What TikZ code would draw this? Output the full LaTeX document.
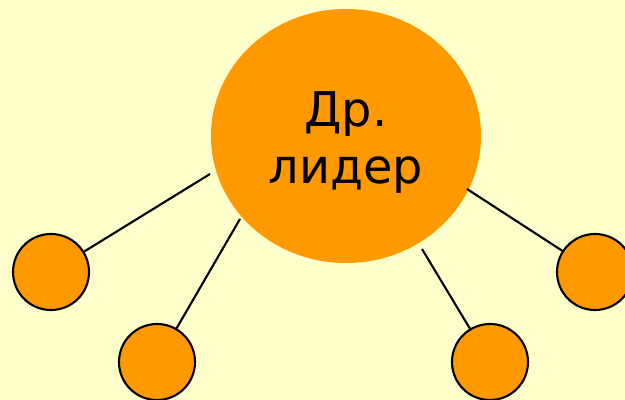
\documentclass[tikz,border=0pt]{standalone}
\usepackage{fontspec}
\setmainfont{DejaVu Sans}
\usepackage{tikz}
\usetikzlibrary{shapes.geometric}

\definecolor{paper}{HTML}{FFFFCC}
\definecolor{leaderorange}{HTML}{FF9900}

\tikzset{
  leader/.style={ellipse,fill=leaderorange,minimum width=6.75cm,minimum height=6.35cm,inner sep=0pt},
  leadtext/.style={align=center,inner sep=0pt,font=\fontsize{34}{40.5}\selectfont},
  member/.style={circle,draw=black,line width=1.5pt,fill=leaderorange,minimum size=1.9cm,inner sep=0pt},
  link/.style={line width=1.5pt}
}

\begin{document}
\begin{tikzpicture}[x=0.025cm,y=-0.025cm]

\useasboundingbox (0,0) rectangle (625,400);
\fill[paper] (0,0) rectangle (625,400);

\node[leader] (lead) at (346,136) {};
\node[leadtext] (leadname) at (346,143) {Др.\\лидер};

\node[member] (m1) at (51,272) {};
\node[member] (m2) at (157,362) {};
\node[member] (m3) at (490,362) {};
\node[member] (m4) at (595,272) {};

\coordinate (e1) at (210,174);
\coordinate (e2) at (240,219);
\coordinate (e3) at (422,249);
\coordinate (e4) at (467,189);

\draw[link] (m1) -- (e1);
\draw[link] (m2) -- (e2);
\draw[link] (m3) -- (e3);
\draw[link] (m4) -- (e4);

\end{tikzpicture}
\end{document}
